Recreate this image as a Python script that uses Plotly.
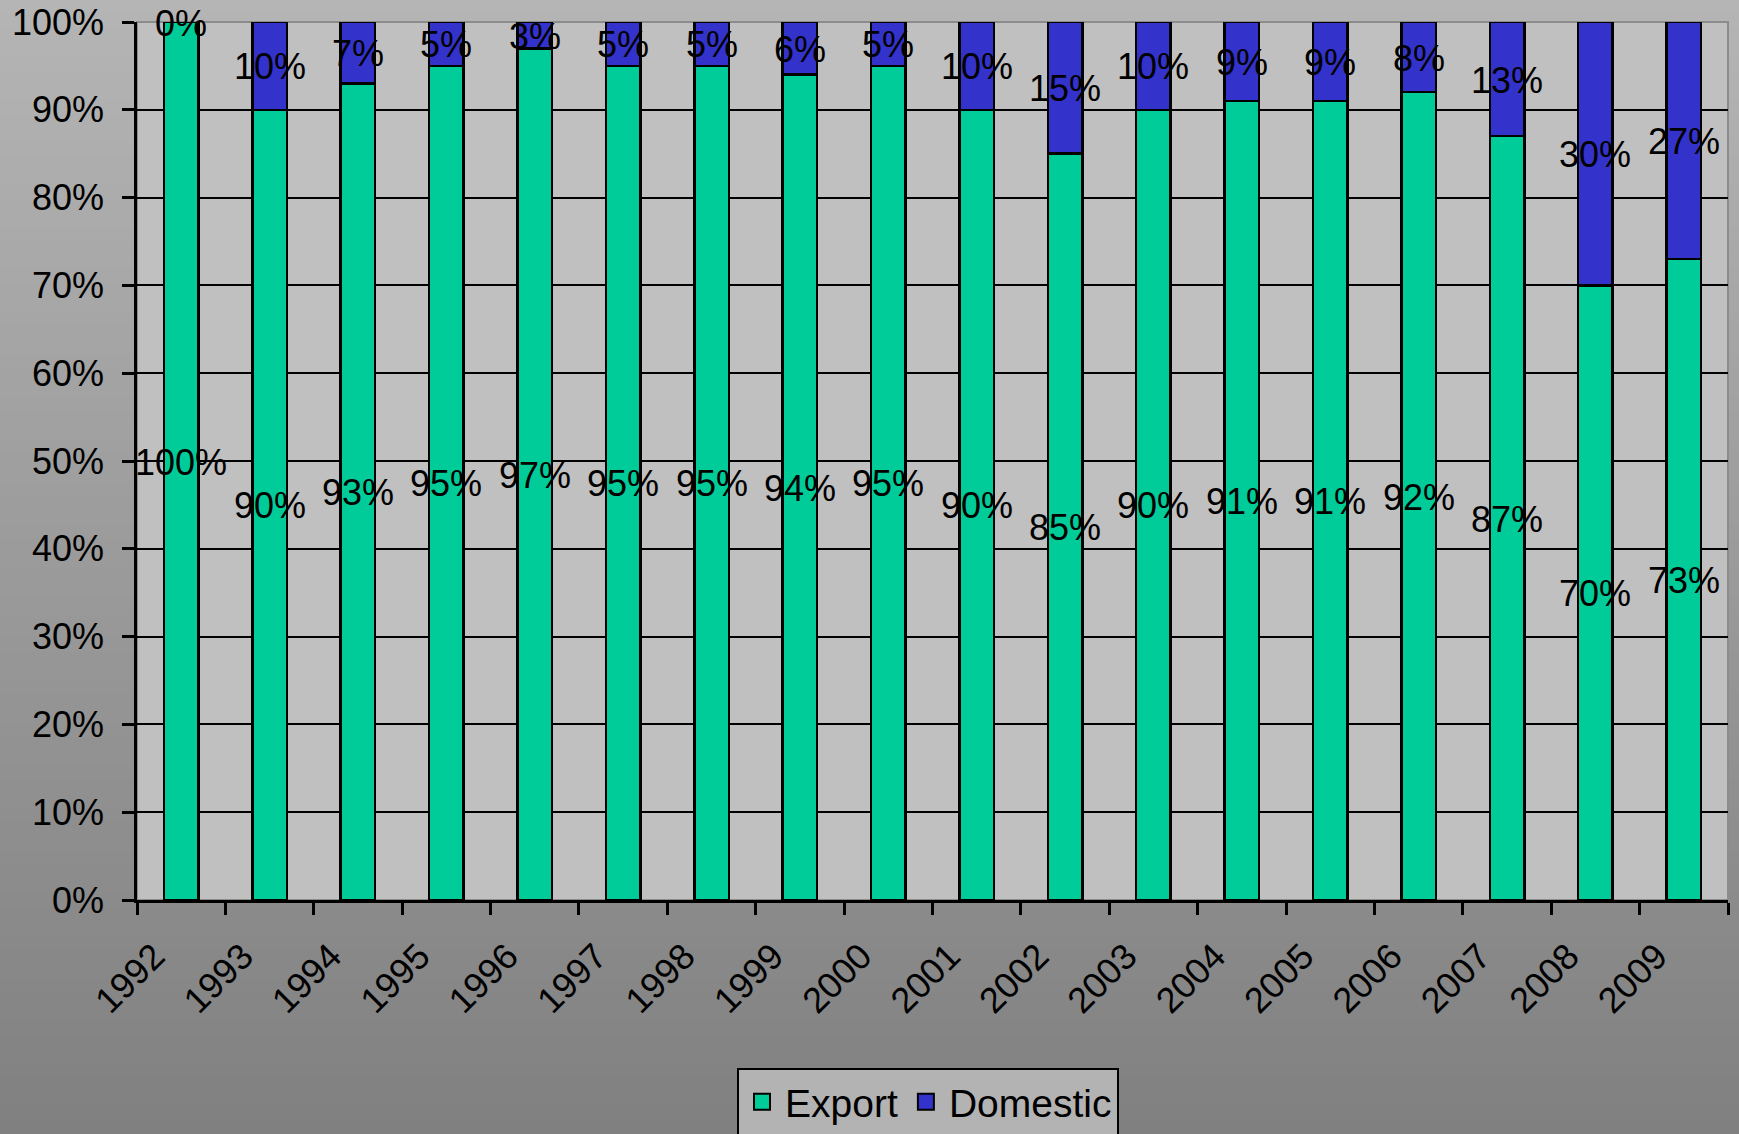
import plotly.graph_objects as go

# ---- data ----
years = ["1992", "1993", "1994", "1995", "1996", "1997", "1998", "1999", "2000",
         "2001", "2002", "2003", "2004", "2005", "2006", "2007", "2008", "2009"]
export = [100, 90, 93, 95, 97, 95, 95, 94, 95, 90, 85, 90, 91, 91, 92, 87, 70, 73]
domestic = [0, 10, 7, 5, 3, 5, 5, 6, 5, 10, 15, 10, 9, 9, 8, 13, 30, 27]
y_ticks = [0, 10, 20, 30, 40, 50, 60, 70, 80, 90, 100]
y_tick_labels = [f"{v}%" for v in y_ticks]

# ---- layout geometry ----
W, H = 1739, 1134
L, R, T, B = 137, 11, 22, 234
PW, PH = W - L - R, H - T - B
FONT = "Liberation Sans, Arial, sans-serif"
GREEN = "#00CC99"
BLUE = "#3333CC"


def px_to_paper_y(py):
    return (H - B - py) / PH


def px_to_paper_x(px):
    return (px - L) / PW


fig = go.Figure()

fig.add_trace(go.Bar(
    x=years, y=export, name="Export", width=0.39, legendgroup="e",
    showlegend=False,
    marker=dict(color=GREEN, line=dict(color="black", width=2.5)),
    hoverinfo="skip",
))
fig.add_trace(go.Bar(
    x=years, y=domestic, name="Domestic", width=0.39, legendgroup="d",
    showlegend=False,
    marker=dict(color=BLUE, line=dict(color="black", width=2.5)),
    hoverinfo="skip",
))

# legend entries (square swatches)
for nm, col, grp in [("Export", GREEN, "e"), ("Domestic", BLUE, "d")]:
    fig.add_trace(go.Scatter(
        x=[None], y=[None], mode="markers", name=nm, legendgroup=grp,
        marker=dict(symbol="square", size=18, color=col,
                    line=dict(color="black", width=2)),
        hoverinfo="skip",
    ))

# data labels (centred in each segment); x given as category index
annotations = []
for i, (e, d) in enumerate(zip(export, domestic)):
    annotations.append(dict(
        x=i, y=e / 2, xref="x", yref="y", text=f"{e}%", showarrow=False,
        yshift=-1, font=dict(family=FONT, size=36, color="black"),
    ))
    annotations.append(dict(
        x=i, y=e + d / 2, xref="x", yref="y", text=f"{d}%", showarrow=False,
        yshift=-1, font=dict(family=FONT, size=36, color="black"),
    ))

# ---- background gradient (paper) ----
shapes = []
n = 80
top_c, bot_c = 181, 128
for k in range(n):
    py0 = H * k / n
    py1 = H * (k + 1) / n + 1
    c = round(top_c + (bot_c - top_c) * (k + 0.5) / n)
    col = f"rgb({c},{c},{c})"
    shapes.append(dict(
        type="rect", xref="paper", yref="paper", layer="below",
        x0=px_to_paper_x(0), x1=px_to_paper_x(W),
        y0=px_to_paper_y(py1), y1=px_to_paper_y(py0),
        fillcolor=col, line=dict(width=0),
    ))
# plot area
shapes.append(dict(
    type="rect", xref="paper", yref="paper", layer="below",
    x0=0, x1=1, y0=0, y1=1, fillcolor="#C0C0C0",
    line=dict(color="#8C8C8C", width=2),
))

fig.update_layout(
    width=W, height=H,
    margin=dict(l=L, r=R, t=T, b=B, autoexpand=False),
    paper_bgcolor="#9C9C9C",
    plot_bgcolor="rgba(0,0,0,0)",
    barmode="stack",
    font=dict(family=FONT, size=36, color="black"),
    shapes=shapes,
    annotations=annotations,
    showlegend=True,
    legend=dict(
        orientation="h",
        x=px_to_paper_x(737), xanchor="left",
        y=px_to_paper_y(1068), yanchor="top",
        bgcolor="#B3B3B3", bordercolor="black", borderwidth=2,
        font=dict(family=FONT, size=39, color="black"),
        itemwidth=36, traceorder="normal",
    ),
    xaxis=dict(
        type="category",
        range=[-0.5, len(years) - 0.5],
        showline=True, linecolor="black", linewidth=2.5,
        ticks="outside", tickson="boundaries", ticklen=12, tickwidth=2.5,
        tickcolor="black", tickangle=-45,
        ticklabelstandoff=18, ticklabelshift=-27,
        tickfont=dict(family=FONT, size=36, color="black"),
        showgrid=False, zeroline=False,
    ),
    yaxis=dict(
        range=[0, 100],
        tickvals=y_ticks, ticktext=y_tick_labels,
        showline=True, linecolor="black", linewidth=2.5,
        ticks="outside", ticklen=12, tickwidth=2.5, tickcolor="black",
        ticklabelstandoff=11,
        tickfont=dict(family=FONT, size=36, color="black"),
        showgrid=True, gridcolor="black", gridwidth=2,
        zeroline=False,
    ),
)

fig.write_html(
    "out.html",
    config={"displayModeBar": False},
    post_script="document.body.style.margin='0';document.body.style.overflow='hidden';",
)
